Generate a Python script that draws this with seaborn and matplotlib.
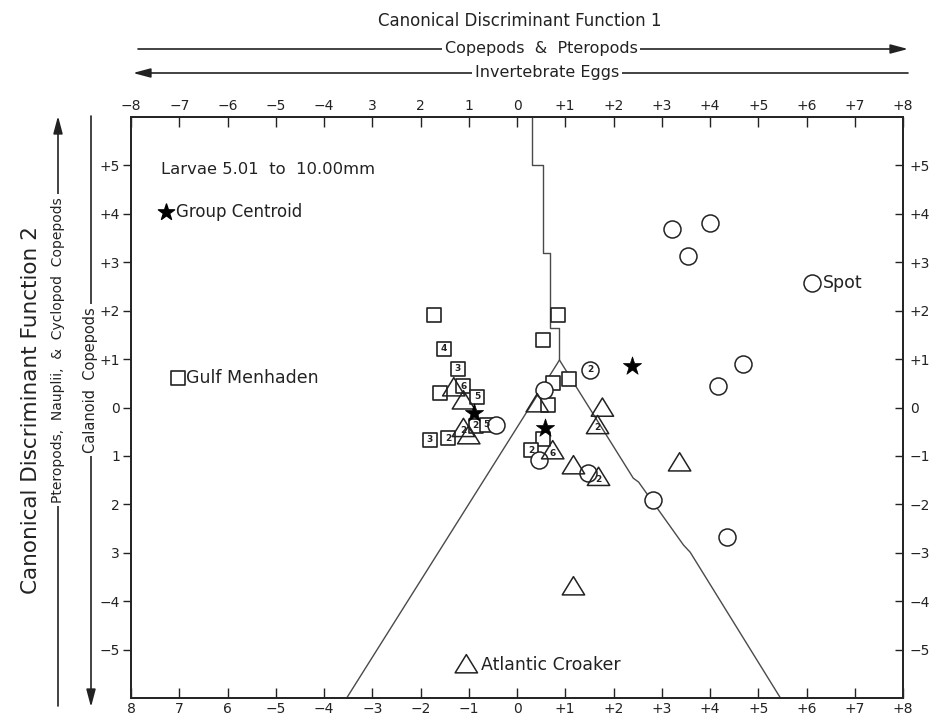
import numpy as np
import pandas as pd
import matplotlib
matplotlib.use("Agg")
import matplotlib.pyplot as plt
from matplotlib.path import Path
from matplotlib.patches import FancyArrowPatch
import seaborn as sns

# ---------------- data ----------------
menhaden_x = [-1.73, -1.52, -1.23, -1.60, -1.11, -0.82, -0.86, -0.63, -1.81, -1.42,
              0.84, 0.53, 0.74, 1.07, 0.65, 0.53, 0.30]
menhaden_y = [1.91, 1.21, 0.80, 0.30, 0.44, 0.22, -0.38, -0.36, -0.67, -0.63,
              1.91, 1.39, 0.51, 0.59, 0.05, -0.65, -0.88]
menhaden_n = ["", "4", "3", "", "6", "5", "2", "5", "3", "2",
              "", "", "", "", "", "", "2"]

spot_x = [3.22, 4.01, 3.55, 4.69, 4.17, 2.81, 4.36, 1.52, 0.55, 0.45, 1.48, -0.44]
spot_y = [3.69, 3.81, 3.13, 0.90, 0.44, -1.91, -2.68, 0.78, 0.36, -1.08, -1.36, -0.36]
spot_n = ["", "", "", "", "", "", "", "2", "", "", "", ""]

croaker_x = [-1.31, -1.11, -1.11, -1.00, 0.42, 1.77, 1.67, 0.74, 1.17, 1.69, 3.37, 1.17]
croaker_y = [0.42, 0.15, -0.42, -0.57, 0.09, 0.00, -0.36, -0.88, -1.19, -1.43, -1.13, -3.69]
croaker_n = ["", "", "2", "", "", "", "2", "6", "", "2", "", ""]

centroid_x = [-0.90, 0.59, 2.39]
centroid_y = [-0.11, -0.42, 0.86]

# territorial-map boundaries
stem_x = [0.32, 0.32, 0.53, 0.53, 0.69, 0.69, 0.88, 0.88]
stem_y = [6.00, 5.00, 5.00, 3.20, 3.20, 1.64, 1.64, 0.98]
left_x = [0.88, -3.53]
left_y = [0.98, -6.00]
right_x = [0.88, 2.41, 2.52, 3.45, 3.59, 5.46]
right_y = [0.98, -1.46, -1.54, -2.84, -2.99, -6.00]

x_ticks = list(range(-8, 9))
top_labels = ["\u22128", "\u22127", "\u22126", "\u22125", "\u22124", "3", "2", "1", "0",
              "+1", "+2", "+3", "+4", "+5", "+6", "+7", "+8"]
bottom_labels = ["8", "7", "6", "\u22125", "\u22124", "\u22123", "\u22122", "\u22121", "0",
                 "+1", "+2", "+3", "+4", "+5", "+6", "+7", "+8"]
y_ticks = list(range(-5, 6))
left_labels = ["\u22125", "\u22124", "3", "2", "1", "0", "+1", "+2", "+3", "+4", "+5"]
right_labels = ["\u22125", "\u22124", "\u22123", "\u22122", "\u22121", "0", "+1", "+2", "+3", "+4", "+5"]

# ---------------- style ----------------
sns.set_theme(style="white")
plt.rcParams['font.family'] = ['DejaVu Sans']
INK = "#222222"
LINE = "#4a4a4a"
LAB = 12.5

W, H = 933, 717
fig = plt.figure(figsize=(W / 100, H / 100), dpi=100)
ax = fig.add_axes([131 / W, 1 - 698 / H, 772 / W, 581 / H])

def fx(px):
    return px / W

def fy(py):
    return 1 - py / H

# ---------------- boundaries ----------------
bdf = pd.DataFrame({
    "x": stem_x + left_x + right_x,
    "y": stem_y + left_y + right_y,
    "seg": ["stem"] * len(stem_x) + ["left"] * len(left_x) + ["right"] * len(right_x),
})
for seg, g in bdf.groupby("seg"):
    sns.lineplot(data=g, x="x", y="y", sort=False, estimator=None, ax=ax,
                 color=LINE, lw=1.0, zorder=1)

# ---------------- points ----------------
tri = Path([(-1, -0.78), (1, -0.78), (0, 0.85), (-1, -0.78)], closed=True)
TRI_S = 260

men = pd.DataFrame({"x": menhaden_x, "y": menhaden_y, "n": menhaden_n})
spt = pd.DataFrame({"x": spot_x, "y": spot_y, "n": spot_n})
cro = pd.DataFrame({"x": croaker_x, "y": croaker_y, "n": croaker_n})
cen = pd.DataFrame({"x": centroid_x, "y": centroid_y})

sns.scatterplot(data=men, x="x", y="y", marker="s", s=100, facecolor="white",
                edgecolor=INK, linewidth=1.2, ax=ax, zorder=3)
sns.scatterplot(data=spt, x="x", y="y", marker="o", s=150, facecolor="white",
                edgecolor=INK, linewidth=1.1, ax=ax, zorder=3)
sns.scatterplot(data=cro, x="x", y="y", marker=tri, s=TRI_S, facecolor="none",
                edgecolor=INK, linewidth=1.1, ax=ax, zorder=4)
sns.scatterplot(data=cen, x="x", y="y", marker="*", s=190, color="black",
                edgecolor="black", linewidth=0.5, ax=ax, zorder=5)

for df_, dy in ((men, 0.0), (spt, 0.0), (cro, -0.06)):
    for _, r in df_.iterrows():
        if r["n"]:
            ax.text(r["x"], r["y"] + dy, r["n"], ha="center", va="center",
                    fontsize=6.5, fontweight="bold", color=INK, zorder=6)

# ---------------- in-plot labels ----------------
ax.text(-7.38, 4.91, "Larvae 5.01  to  10.00mm", ha="left", va="center",
        fontsize=LAB - 0.7, color=INK)
ax.scatter([-7.28], [4.04], marker="*", s=150, color="black", zorder=5)
ax.text(-7.06, 4.04, "Group Centroid", ha="left", va="center", fontsize=LAB - 0.5, color=INK)
ax.scatter([-7.03], [0.61], marker="s", s=100, facecolor="white", edgecolor=INK,
           linewidth=1.2, zorder=5)
ax.text(-6.85, 0.61, "Gulf Menhaden", ha="left", va="center", fontsize=LAB, color=INK)
ax.scatter([6.12], [2.57], marker="o", s=150, facecolor="white", edgecolor=INK,
           linewidth=1.1, zorder=5)
ax.text(6.33, 2.57, "Spot", ha="left", va="center", fontsize=LAB, color=INK)
ax.scatter([-1.05], [-5.30], marker=tri, s=TRI_S, facecolor="none", edgecolor=INK,
           linewidth=1.1, zorder=5)
ax.text(-0.74, -5.32, "Atlantic Croaker", ha="left", va="center", fontsize=LAB, color=INK)

# ---------------- axes ----------------
ax.set_xlim(-8, 8)
ax.set_ylim(-6, 6)
ax.set_xlabel("")
ax.set_ylabel("")
ax.set_xticks(x_ticks)
ax.set_xticklabels(bottom_labels)
ax.set_yticks(y_ticks)
ax.set_yticklabels(left_labels)
ax.tick_params(axis="x", direction="in", length=7, width=1, pad=3,
               labelsize=10, colors=INK, bottom=True)
ax.tick_params(axis="y", direction="out", length=6, width=1, pad=2,
               labelsize=10, colors=INK, left=True)
for s in ax.spines.values():
    s.set_visible(True)
    s.set_color(INK)
    s.set_linewidth(1.4)

axt = ax.twiny()
axt.set_xlim(-8, 8)
axt.set_xticks(x_ticks)
axt.set_xticklabels(top_labels)
axt.tick_params(axis="x", direction="in", length=7, width=1, pad=3,
                labelsize=10, colors=INK, top=True)
axt.grid(False)

axr = ax.twinx()
axr.set_ylim(-6, 6)
axr.set_yticks(y_ticks)
axr.set_yticklabels(right_labels)
axr.tick_params(axis="y", direction="in", length=6, width=1, pad=5,
                labelsize=10, colors=INK, right=True)
axr.grid(False)
ax.grid(False)

# ---------------- outside annotations ----------------
fig.text(fx(520), fy(21), "Canonical Discriminant Function 1", ha="center", va="center",
         fontsize=12, color=INK)

arrow_kw = dict(arrowstyle="-|>,head_length=0.75,head_width=0.2", color=INK, lw=1.2,
                shrinkA=0, shrinkB=0, mutation_scale=14)
box = dict(facecolor="white", edgecolor="none", pad=2)

fig.add_artist(FancyArrowPatch((fx(138), fy(49)), (fx(908), fy(49)),
                               transform=fig.transFigure, **arrow_kw))
fig.text(fx(541), fy(49), "Copepods  &  Pteropods", ha="center", va="center", fontsize=11.5,
         color=INK, bbox=box)
fig.add_artist(FancyArrowPatch((fx(908), fy(73)), (fx(133), fy(73)),
                               transform=fig.transFigure, **arrow_kw))
fig.text(fx(547), fy(73), "Invertebrate Eggs", ha="center", va="center", fontsize=11.5,
         color=INK, bbox=box)

fig.text(fx(31), fy(410), "Canonical Discriminant Function 2", ha="center", va="center",
         rotation=90, fontsize=15.5, color=INK)
fig.add_artist(FancyArrowPatch((fx(58), fy(706)), (fx(58), fy(116)),
                               transform=fig.transFigure, **arrow_kw))
fig.text(fx(58), fy(350), "Pteropods,  Nauplii,  &  Cyclopod  Copepods", ha="center",
         va="center", rotation=90, fontsize=10, color=INK, bbox=box)
fig.add_artist(FancyArrowPatch((fx(91), fy(116)), (fx(91), fy(707)),
                               transform=fig.transFigure, **arrow_kw))
fig.text(fx(91), fy(380), "Calanoid  Copepods", ha="center", va="center", rotation=90,
         fontsize=10.5, color=INK, bbox=box)

fig.savefig("out.png", dpi=100)
